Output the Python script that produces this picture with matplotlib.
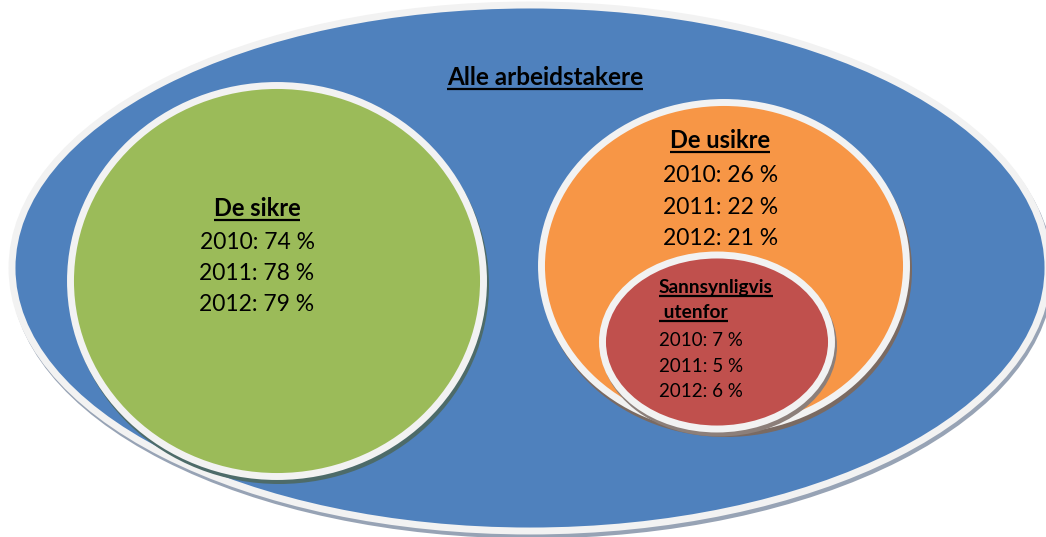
import matplotlib.pyplot as plt
from matplotlib.patches import Ellipse

### data
years = [2010, 2011, 2012]
sikre = [74, 78, 79]
usikre = [26, 22, 21]
utenfor = [7, 5, 6]
title_all = "Alle arbeidstakere"
title_sikre = "De sikre"
title_usikre = "De usikre"
title_utenfor = ["Sannsynligvis", " utenfor"]

plt.rcParams['font.family'] = ['Lato', 'DejaVu Sans']

fig = plt.figure(figsize=(10.46, 5.37), dpi=100)
ax = fig.add_axes([0, 0, 1, 1])
ax.set_xlim(0, 1046)
ax.set_ylim(537, 0)
ax.axis('off')

BORDER = '#f2f2f2'
LW = 5.0  # points, ~7px


def bubble(cx, cy, w, h, color, shadow, z):
    # shadow, offset down-right
    ax.add_patch(Ellipse((cx + 2, cy + 4), w + 7, h + 7, facecolor=shadow,
                         edgecolor='none', zorder=z))
    ax.add_patch(Ellipse((cx, cy), w, h, facecolor=color, edgecolor=BORDER,
                         linewidth=LW, zorder=z + 0.1))


bubble(530, 268, 1036, 526, '#4f81bd', '#97a3b5', 1)
bubble(277, 281, 413, 391, '#9bbb59', '#4d6b69', 2)
bubble(724, 266, 365, 327, '#f79646', '#7a6a62', 3)
bubble(717, 342, 229, 174, '#c0504d', '#8c7f7a', 4)

ul = []

t = ax.text(545, 85, title_all, ha='center', va='baseline', fontsize=17.5,
            fontweight='bold', zorder=10)
ul.append((t, 88.5))

t = ax.text(257, 216, title_sikre, ha='center', va='baseline', fontsize=17,
            fontweight='bold', zorder=10)
ul.append((t, 219.5))
for i, (yr, v) in enumerate(zip(years, sikre)):
    ax.text(257, 249 + 31 * i, f"{yr}: {v} %", ha='center', va='baseline',
            fontsize=16.5, zorder=10)

t = ax.text(720, 148, title_usikre, ha='center', va='baseline', fontsize=17,
            fontweight='bold', zorder=10)
ul.append((t, 151.5))
for i, (yr, v) in enumerate(zip(years, usikre)):
    ax.text(721, 182 + 31.5 * i, f"{yr}: {v} %", ha='center', va='baseline',
            fontsize=16.5, zorder=10)

for i, s in enumerate(title_utenfor):
    t = ax.text(659, 293 + 25 * i, s, ha='left', va='baseline', fontsize=13.8,
                fontweight='bold', zorder=10)
    ul.append((t, 295.5 + 25 * i))
for i, (yr, v) in enumerate(zip(years, utenfor)):
    ax.text(659, 346 + 25.5 * i, f"{yr}: {v} %", ha='left', va='baseline',
            fontsize=13.5, zorder=10)

# underlines
fig.canvas.draw()
r = fig.canvas.get_renderer()
inv = ax.transData.inverted()
for t, y in ul:
    bb = t.get_window_extent(r)
    x0 = inv.transform((bb.x0, 0))[0]
    x1 = inv.transform((bb.x1, 0))[0]
    ax.plot([x0, x1], [y, y], color='black', lw=1.6, zorder=11,
            solid_capstyle='butt')

fig.savefig('out.png', dpi=100)
